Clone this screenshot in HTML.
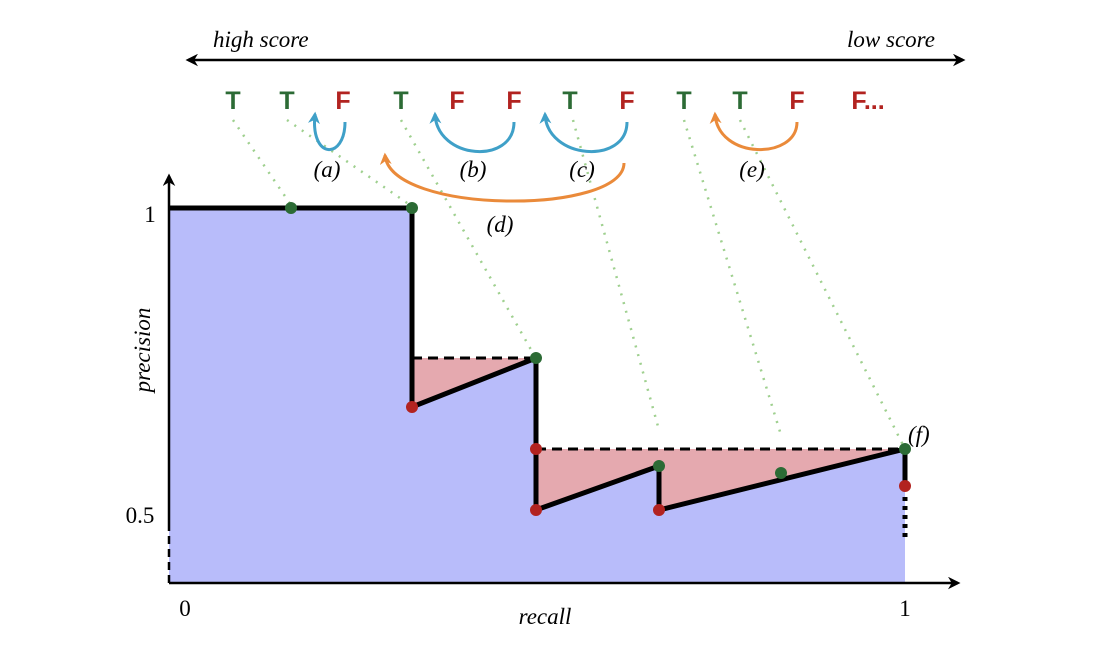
<!DOCTYPE html>
<html><head><meta charset="utf-8"><style>html,body{margin:0;padding:0;background:#fff}svg{display:block}</style></head>
<body>
<svg width="1096" height="656" viewBox="0 0 1096 656" xmlns="http://www.w3.org/2000/svg">
<defs>
<marker id="ab" viewBox="0 0 10 10" refX="8" refY="5" markerWidth="5" markerHeight="5" orient="auto-start-reverse"><path d="M0,0 L10,5 L0,10 L3,5z" fill="#000"/></marker>
<marker id="bl" viewBox="0 0 10 10" refX="8" refY="5" markerWidth="4" markerHeight="4" orient="auto"><path d="M0,0 L10,5 L0,10 L3,5z" fill="#3fa0c8"/></marker>
<marker id="or" viewBox="0 0 10 10" refX="8" refY="5" markerWidth="4" markerHeight="4" orient="auto"><path d="M0,0 L10,5 L0,10 L3,5z" fill="#ea8a3a"/></marker>
</defs>
<polygon points="169,208 412,208 412,407 536,358 536,510 659,466 659,510 905,449 905,582 169,582" fill="#b8bcfa"/>
<polygon points="412,358 536,358 412,407" fill="#e5a9af"/>
<polygon points="536,449 905,449 659,510 659,466 536,510" fill="#e5a9af"/>
<g stroke="#9fd08f" stroke-width="2.5" stroke-dasharray="2,7" fill="none">
<line x1="233" y1="120" x2="291" y2="205"/>
<line x1="287" y1="120" x2="410" y2="205"/>
<line x1="401" y1="120" x2="534" y2="355"/>
<line x1="573" y1="120" x2="659" y2="430"/>
<line x1="684" y1="120" x2="781" y2="435"/>
<line x1="740" y1="120" x2="903" y2="445"/>
</g>
<line x1="169" y1="583" x2="169" y2="528" stroke="#000" stroke-width="2.5" stroke-dasharray="8,5"/>
<line x1="169" y1="528" x2="169" y2="176" stroke="#000" stroke-width="2.5" marker-end="url(#ab)"/>
<line x1="169" y1="583" x2="958" y2="583" stroke="#000" stroke-width="2.5" marker-end="url(#ab)"/>
<line x1="188" y1="60" x2="963" y2="60" stroke="#000" stroke-width="2.5" marker-end="url(#ab)" marker-start="url(#ab)"/>
<g stroke="#000" stroke-width="3" stroke-dasharray="10,6"><line x1="412" y1="358" x2="536" y2="358"/><line x1="536" y1="449" x2="905" y2="449"/></g>
<polyline points="169,208 412,208 412,407 536,358 536,510 659,466 659,510 905,449 905,486" fill="none" stroke="#000" stroke-width="5"/>
<line x1="905" y1="497" x2="905" y2="540" stroke="#000" stroke-width="5" stroke-dasharray="4,5"/>
<g fill="#2c6b35"><circle cx="291" cy="208" r="6"/><circle cx="412" cy="208" r="6"/><circle cx="536" cy="358" r="6"/><circle cx="659" cy="466" r="6"/><circle cx="781" cy="473" r="6"/><circle cx="905" cy="449" r="6"/></g>
<g fill="#b22320"><circle cx="412" cy="407" r="6"/><circle cx="536" cy="449" r="6"/><circle cx="536" cy="510" r="6"/><circle cx="659" cy="510" r="6"/><circle cx="905" cy="486" r="6"/></g>
<g fill="none" stroke-width="3">
<path d="M345,122 C345,160 310,160 315,114" stroke="#3fa0c8" marker-end="url(#bl)"/>
<path d="M514,122 C514,165 437,160 435,114" stroke="#3fa0c8" marker-end="url(#bl)"/>
<path d="M627,122 C627,165 547,160 545,114" stroke="#3fa0c8" marker-end="url(#bl)"/>
<path d="M797,122 C797,160 718,160 715,114" stroke="#ea8a3a" marker-end="url(#or)"/>
<path d="M624,163 C624,215 390,215 385,155" stroke="#ea8a3a" marker-end="url(#or)"/>
</g>
<g font-family="Liberation Sans, sans-serif" font-weight="bold" font-size="25" text-anchor="middle">
<text x="233" y="109" fill="#2c6b35">T</text><text x="287" y="109" fill="#2c6b35">T</text><text x="343" y="109" fill="#b22320">F</text>
<text x="401" y="109" fill="#2c6b35">T</text><text x="457" y="109" fill="#b22320">F</text><text x="514" y="109" fill="#b22320">F</text>
<text x="570" y="109" fill="#2c6b35">T</text><text x="627" y="109" fill="#b22320">F</text><text x="684" y="109" fill="#2c6b35">T</text>
<text x="740" y="109" fill="#2c6b35">T</text><text x="797" y="109" fill="#b22320">F</text><text x="868" y="109" fill="#b22320">F...</text>
</g>
<g font-family="Liberation Serif, serif" font-style="italic" font-size="23" fill="#000">
<text x="213" y="47">high score</text><text x="935" y="47" text-anchor="end">low score</text>
<text x="327" y="177" text-anchor="middle">(a)</text><text x="473" y="177" text-anchor="middle">(b)</text>
<text x="582" y="177" text-anchor="middle">(c)</text><text x="500" y="232" text-anchor="middle">(d)</text>
<text x="752" y="177" text-anchor="middle">(e)</text><text x="908" y="442">(f)</text>
<text x="545" y="624" text-anchor="middle">recall</text>
<text transform="translate(150,350) rotate(-90)" text-anchor="middle">precision</text>
</g>
<g font-family="Liberation Serif, serif" font-size="23" fill="#000">
<text x="150" y="222" text-anchor="middle">1</text><text x="140" y="523" text-anchor="middle">0.5</text>
<text x="185" y="616" text-anchor="middle">0</text><text x="905" y="616" text-anchor="middle">1</text>
</g>
</svg>
</body></html>
